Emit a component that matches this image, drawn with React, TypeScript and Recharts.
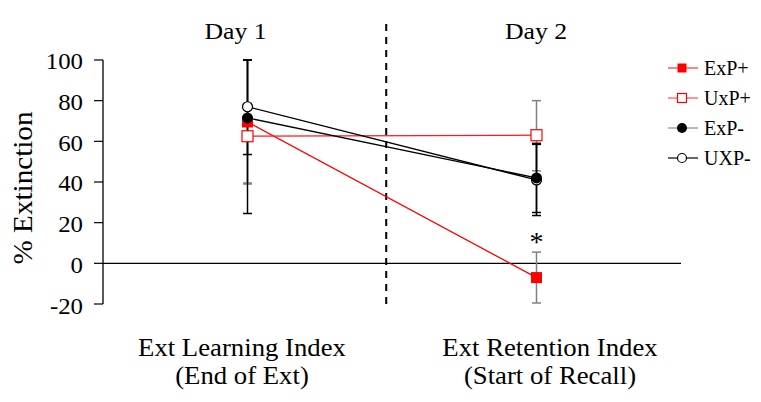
import { Customized, ErrorBar, Legend, Line, LineChart, ReferenceDot, ReferenceLine, XAxis, YAxis } from "recharts";

// x positions of the two measurements on a 0..4 axis; the dashed divider sits between them
const positions = [1, 3];
const dividerAt = 1.96;
const categories = [
  ["Ext Learning Index", "(End of Ext)"],
  ["Ext Retention Index", "(Start of Recall)"],
];
const dayLabels = ["Day 1", "Day 2"];
const yTicks = [-20, 0, 20, 40, 60, 80, 100];

const expPlus = [69.5, -7];
const expPlusErr = [[30, 30.5], [12.5, 12.5]];
const uxpPlus = [62.5, 63];
const uxpPlusErr = [[23.5, 37.5], [17.5, 17]];
const expMinus = [71.5, 42];
const expMinusErr = [[47, 28.5], [17, 17]];
const uxpMinus = [77, 41];
const uxpMinusErr = [[23.5, 23], [17.5, 17.5]];
const starAt = { x: 3, y: 12 };

const FONT = "'Liberation Serif', 'Times New Roman', serif";

const data = positions.map((x, i) => ({
  x,
  expPlus: expPlus[i],
  expPlusErr: expPlusErr[i],
  uxpPlus: uxpPlus[i],
  uxpPlusErr: uxpPlusErr[i],
  expMinus: expMinus[i],
  expMinusErr: expMinusErr[i],
  uxpMinus: uxpMinus[i],
  uxpMinusErr: uxpMinusErr[i],
}));

type Marker = "fillSquare" | "openSquare" | "fillCircle" | "openCircle";
// draw order: red first, black on top
const series: { key: string; name: string; color: string; line: string; legendLine: string; err: string; marker: Marker }[] = [
  { key: "expPlus", name: "ExP+", color: "#ff0000", line: "#ff0000", legendLine: "#ff3030", err: "#808080", marker: "fillSquare" },
  { key: "uxpPlus", name: "UxP+", color: "#ff0000", line: "#ff1a1a", legendLine: "#ff5050", err: "#808080", marker: "openSquare" },
  { key: "uxpMinus", name: "UXP-", color: "#000", line: "#000", legendLine: "#000", err: "#000", marker: "openCircle" },
  { key: "expMinus", name: "ExP-", color: "#000", line: "#000", legendLine: "#888", err: "#000", marker: "fillCircle" },
];
const legendOrder = ["expPlus", "uxpPlus", "expMinus", "uxpMinus"];

// the source figure's serif text is a bit wider than Times, so stretch it along its run
function SText({ x, y, size, anchor = "middle", stretch = 1.08, rotate = 0, children }: any) {
  return (
    <text
      transform={`translate(${x} ${y}) rotate(${rotate}) scale(${stretch} 1)`}
      x={0}
      y={0}
      textAnchor={anchor}
      fontFamily={FONT}
      fontSize={size}
      fill="#000"
    >
      {children}
    </text>
  );
}

function drawMarker(m: Marker, cx: number, cy: number, color: string, s: number) {
  if (m === "fillSquare") return <rect x={cx - s / 2} y={cy - s / 2} width={s} height={s} fill={color} />;
  if (m === "openSquare")
    return <rect x={cx - s / 2} y={cy - s / 2} width={s} height={s} fill="#fff" stroke={color} strokeWidth={1.2} />;
  if (m === "fillCircle") return <circle cx={cx} cy={cy} r={s / 2} fill={color} />;
  return <circle cx={cx} cy={cy} r={s / 2} fill="#fff" stroke={color} strokeWidth={1.2} />;
}

const catShift = [-5.5, 13.5];

function CategoryTick({ x, y, payload }: any) {
  const idx = positions.indexOf(payload.value);
  const lines = categories[idx] || [];
  return (
    <g>
      {lines.map((t, i) => (
        <SText key={i} x={x + catShift[idx]} y={y + 44 + i * 28} size={25} stretch={1.07}>
          {t}
        </SText>
      ))}
    </g>
  );
}

function YTick({ x, y, payload }: any) {
  return (
    <SText x={x} y={y + 9.5} size={23} anchor="end" stretch={1.08}>
      {payload.value}
    </SText>
  );
}

function LegendBox() {
  return (
    <div style={{ fontFamily: FONT, fontSize: 20, color: "#000", lineHeight: "20px" }}>
      {legendOrder.map((k) => {
        const s = series.find((d) => d.key === k)!;
        return (
          <div key={k} style={{ display: "flex", alignItems: "center", height: 30 }}>
            <svg width={36} height={20} style={{ display: "block" }}>
              <line x1={2} y1={10} x2={32} y2={10} stroke={s.legendLine} strokeWidth={1.2} />
              {drawMarker(s.marker, 16, 10, s.color, s.marker === "fillCircle" ? 10 : 9)}
            </svg>
            <span style={{ marginLeft: 2 }}>{s.name}</span>
          </div>
        );
      })}
    </div>
  );
}

export default function App() {
  return (
    <div style={{ position: "absolute", left: 0, top: 0, background: "#fff" }}>
      <LineChart width={761} height={402} data={data} margin={{ top: 19.3, right: 80, bottom: 0, left: 0 }}>
        <XAxis
          dataKey="x"
          type="number"
          domain={[0, 4]}
          ticks={positions}
          axisLine={false}
          tickLine={false}
          height={98}
          tick={<CategoryTick />}
          interval={0}
        />
        <YAxis
          type="number"
          domain={[-20, 120]}
          ticks={yTicks}
          width={103}
          axisLine={false}
          tickLine={{ stroke: "#000", strokeWidth: 1.2 }}
          tickSize={9}
          tickMargin={11}
          tick={<YTick />}
          label={() => (
            <SText x={32} y={188} size={26.5} rotate={-90} stretch={1.1}>
              % Extinction
            </SText>
          )}
        />
        <ReferenceLine y={0} stroke="#000" strokeWidth={1.3} />
        <ReferenceLine segment={[{ x: 0, y: -20 }, { x: 0, y: 100 }]} stroke="#000" strokeWidth={1.3} />
        <ReferenceLine x={dividerAt} stroke="#000" strokeWidth={2} strokeDasharray="7 6" />
        {series.map((s) => (
          <Line
            key={s.key}
            dataKey={s.key}
            name={s.name}
            stroke={s.line}
            strokeWidth={1.3}
            isAnimationActive={false}
            dot={(p: any) => (
              <g key={`${s.key}-${p.index}`}>
                {drawMarker(s.marker, p.cx, p.cy, s.color, s.marker === "fillCircle" ? 11 : s.marker === "openCircle" ? 10 : 11)}
              </g>
            )}
            activeDot={false}
          >
            <ErrorBar dataKey={`${s.key}Err`} width={4.5} stroke={s.err} strokeWidth={1.5} direction="y" />
          </Line>
        ))}
        <ReferenceDot
          x={starAt.x}
          y={starAt.y}
          r={0}
          label={{ value: "*", position: "center", fontFamily: FONT, fontSize: 28, fill: "#000", dy: 2 }}
        />
        <Customized
          component={() => (
            <g>
              {dayLabels.map((d, i) => (
                <SText key={d} x={i === 0 ? 235.5 : 536} y={39.3} size={23} stretch={1.12}>
                  {d}
                </SText>
              ))}
            </g>
          )}
        />
        <Legend
          layout="horizontal"
          verticalAlign="middle"
          align="center"
          wrapperStyle={{ left: 666, top: 53, width: 95 }}
          content={() => <LegendBox />}
        />
      </LineChart>
    </div>
  );
}
